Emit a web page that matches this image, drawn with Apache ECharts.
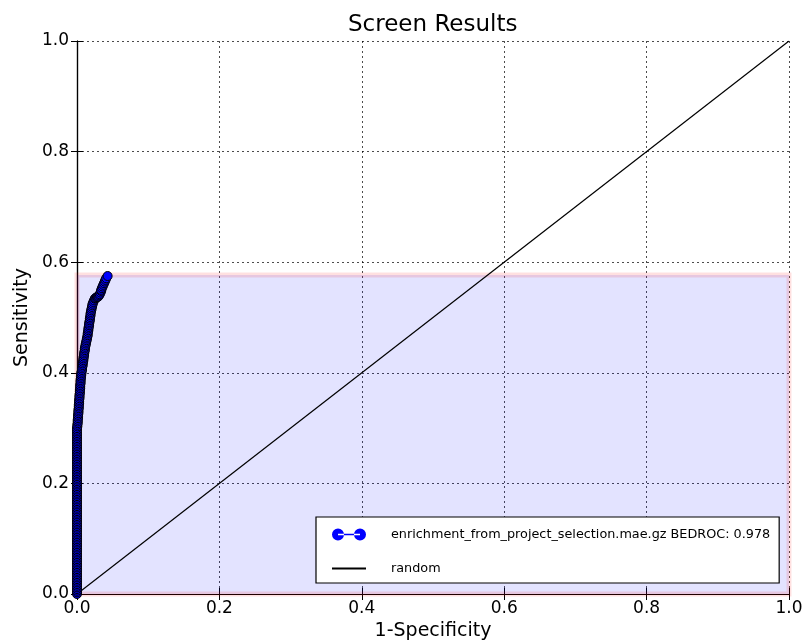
<!DOCTYPE html>
<html>
<head>
<meta charset="utf-8">
<script src="https://cdn.jsdelivr.net/npm/echarts@6/dist/echarts.min.js"></script>
<style>
html,body{margin:0;padding:0;background:#fff;}
#chart{width:808px;height:642px;}
</style>
</head>
<body>
<div id="chart"></div>
<script>
var titleText = 'Screen Results';
var xName = '1-Specificity';
var yName = 'Sensitivity';
var seriesName = 'enrichment_from_project_selection.mae.gz BEDROC: 0.978';
var randomName = 'random';
var axisTicks = [0.0, 0.2, 0.4, 0.6, 0.8, 1.0];

// ROC curve, vertical part at 1-specificity = 0 (sensitivity values)
var rocVertY = [0,.003,.006,.009,.012,.015,.018,.021,.024,.027,
  .03,.033,.036,.039,.042,.045,.048,.051,.054,.057,
  .06,.063,.066,.069,.072,.075,.078,.081,.084,.087,
  .09,.093,.096,.099,.102,.105,.108,.111,.114,.117,
  .12,.123,.126,.129,.132,.135,.138,.141,.144,.147,
  .15,.153,.156,.159,.162,.165,.168,.171,.174,.177,
  .18,.183,.186,.189,.192,.195,.198,.201,.204,.207,
  .21,.213,.216,.219,.222,.225,.228,.231,.234,.237,
  .24,.243,.246,.249,.252,.255,.258,.261,.264,.267,
  .27,.273,.276,.279,.282,.285,.288,.291,.294,.297,
  .3];
var rocVertX = [0,0,0,0,0,0,0,0,0,0, 0,0,0,0,0,0,0,0,0,0, 0,0,0,0,0,0,0,0,0,0,
  0,0,0,0,0,0,0,0,0,0, 0,0,0,0,0,0,0,0,0,0, 0,0,0,0,0,0,0,0,0,0,
  0,0,0,0,0,0,0,0,0,0, 0,0,0,0,0,0,0,0,0,0, 0,0,0,0,0,0,0,0,0,0,
  0,0,0,0,0,0,0,0,0,0, 0];

// ROC curve, rising part (1-specificity, sensitivity)
var rocSlantX = [.0005,.0005,.001,.001,.001,.0015,.0015,.0015,.002,.002,
  .002,.0025,.0025,.0025,.003,.003,.003,.0035,.0035,.0035,
  .004,.004,.004,.0045,.0045,.0045,.005,.005,.005,.0055,
  .0055,.006,.006,.0065,.007,.007,.0075,.008,.008,.0085,
  .009,.009,.0095,.01,.01,.0105,.011,.011,.0115,.012,
  .0125,.013,.0135,.014,.0145,.015,.015,.0155,.016,.016,
  .0165,.017,.017,.0175,.018,.018,.0185,.019,.019,.0195,
  .02,.0205,.021,.0215,.022,.023,.024,.025,.026,.027,
  .028,.029,.030,.031,.032,.033,.034,.034,.035,.036,
  .037,.038,.039,.040,.041,.043];
var rocSlantY = [.303,.306,.309,.312,.315,.318,.321,.324,.327,.33,
  .333,.336,.339,.342,.345,.348,.351,.354,.357,.36,
  .363,.366,.369,.372,.375,.378,.381,.384,.387,.39,
  .393,.396,.399,.402,.405,.408,.411,.414,.417,.42,
  .423,.426,.429,.432,.435,.438,.441,.444,.447,.45,
  .453,.456,.459,.462,.465,.468,.471,.474,.477,.48,
  .483,.486,.489,.492,.495,.498,.501,.504,.507,.51,
  .513,.516,.519,.522,.525,.528,.531,.534,.535,.536,
  .537,.537,.538,.54,.542,.545,.548,.55,.553,.556,
  .559,.562,.565,.568,.571,.575];

// random diagonal
var randomX = [0, 1];
var randomY = [0, 1];

// shaded band (from 0 to the maximum sensitivity over the whole x range)
var bandX = [0, 1];
var bandY = [0, 0.577];

var FONT = 'DejaVu Sans';
var chart = echarts.init(document.getElementById('chart'), null, {renderer: 'canvas'});

function pairs(xs, ys){ var out=[]; for (var i=0;i<xs.length;i++) out.push([xs[i], ys[i]]); return out; }
var rocData = pairs(rocVertX, rocVertY).concat(pairs(rocSlantX, rocSlantY));

var gridDash = [2, 3];
var option = {
  animation: false,
  backgroundColor: '#ffffff',
  textStyle: {fontFamily: FONT},
  title: {
    text: titleText,
    left: 343,
    top: 9,
    textStyle: {fontFamily: FONT, fontSize: 23, fontWeight: 'normal', color: '#000'}
  },
  grid: {left: 77, right: 19, top: 41, bottom: 48, containLabel: false, outerBoundsMode: 'none'},
  legend: {
    orient: 'vertical',
    left: 316, top: 517,
    backgroundColor: '#fff',
    borderColor: '#000', borderWidth: 1.2,
    padding: [11, 9, 8, 16],
    itemGap: 21,
    itemWidth: 34, itemHeight: 12,
    textStyle: {fontFamily: FONT, fontSize: 12.8, color: '#000', padding: [0, 0, 0, 20]},
    data: [
      {name: seriesName, icon: 'path://M0,6 a6,6 0 1,0 12,0 a6,6 0 1,0 -12,0 Z M22,6 a6,6 0 1,0 12,0 a6,6 0 1,0 -12,0 Z M6,5.3 H28 V6.7 H6 Z', itemStyle: {color: '#0000ff', borderWidth: 0}},
      {name: randomName, icon: 'path://M0,5.1 H34 V6.9 H0 Z', itemStyle: {color: '#000', borderWidth: 0}}
    ]
  },
  xAxis: [{
    type: 'value', min: 0, max: 1, interval: 0.2,
    name: xName, nameLocation: 'middle', nameGap: 24,
    nameTextStyle: {fontFamily: FONT, fontSize: 19, color: '#000', verticalAlign: 'top'},
    axisLine: {show: true, onZero: false, lineStyle: {color: '#000', width: 1.2}},
    axisTick: {show: true, inside: true, length: 6, lineStyle: {color: '#000'}},
    axisLabel: {fontFamily: FONT, fontSize: 17, color: '#000', margin: 6,
      formatter: function(v){ return v.toFixed(1); }},
    splitLine: {show: true, lineStyle: {color: '#000', type: gridDash, width: 1, opacity: 0.7}}
  }, {
    type: 'value', min: 0, max: 1, interval: 0.2, position: 'top',
    axisLine: {show: true, lineStyle: {color: '#000', width: 1.2}},
    axisTick: {show: true, inside: true, length: 6, lineStyle: {color: '#000'}},
    axisLabel: {show: false}, splitLine: {show: false}
  }],
  yAxis: [{
    type: 'value', min: 0, max: 1, interval: 0.2,
    name: yName, nameLocation: 'middle', nameGap: 44, nameRotate: 90,
    nameTextStyle: {fontFamily: FONT, fontSize: 19, color: '#000'},
    axisLine: {show: true, onZero: false, lineStyle: {color: '#000', width: 1.2}},
    axisTick: {show: true, inside: true, length: 6, lineStyle: {color: '#000'}},
    axisLabel: {fontFamily: FONT, fontSize: 17, color: '#000', margin: 8,
      formatter: function(v){ return v.toFixed(1); }},
    splitLine: {show: true, lineStyle: {color: '#000', type: gridDash, width: 1, opacity: 0.7}}
  }, {
    type: 'value', min: 0, max: 1, interval: 0.2, position: 'right',
    axisLine: {show: true, lineStyle: {color: '#000', width: 1.2}},
    axisTick: {show: true, inside: true, length: 6, lineStyle: {color: '#000'}},
    axisLabel: {show: false}, splitLine: {show: false}
  }],
  series: [
    {
      name: 'band', type: 'line', data: pairs(bandX, bandY),
      symbol: 'none', lineStyle: {width: 0}, silent: true, z: 1,
      markArea: {
        silent: true,
        itemStyle: {color: 'rgba(0,0,255,0.11)', borderColor: 'rgba(255,0,0,0.12)', borderWidth: 5},
        data: [[{coord: [bandX[0], bandY[0]]}, {coord: [bandX[1], bandY[1]]}]]
      }
    },
    {
      name: randomName, type: 'line', data: pairs(randomX, randomY),
      symbol: 'none', lineStyle: {color: '#000', width: 1.2}, z: 3
    },
    {
      name: seriesName, type: 'line', data: rocData,
      symbol: 'circle', symbolSize: 9, showAllSymbol: true, clip: false,
      lineStyle: {color: '#0000ff', width: 1},
      itemStyle: {color: '#0000ff', borderColor: '#000', borderWidth: 1},
      z: 4
    }
  ]
};
chart.setOption(option);
</script>
</body>
</html>
